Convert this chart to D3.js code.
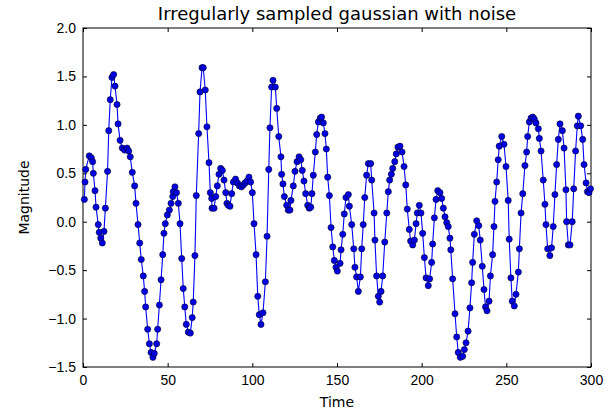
<!DOCTYPE html>
<html>
<head>
<meta charset="utf-8">
<script src="https://cdn.jsdelivr.net/npm/d3@7"></script>
<style>
    body { margin: 0; background: #fff; }
    svg { font-family: "DejaVu Sans", sans-serif; }
    .axis text { font-size: 14px; fill: #000; }
    .axis path, .axis line { stroke: #000; }
</style>
</head>
<body>
<svg id="chart"></svg>
<script>
// sample times and magnitudes
var times = [
    0.8, 1.2, 1.6, 3.7, 4.9, 5.7, 6.1, 7.1, 7.7, 9.0, 9.6, 10.5, 11.4, 12.4, 13.2, 14.5, 15.2, 16.1, 17.1, 18.1,
    18.9, 20.1, 20.7, 21.9, 23.2, 24.6, 26.0, 27.0, 27.9, 29.1, 30.5, 31.3, 32.5, 33.5, 34.4, 35.6, 36.4, 37.0, 38.2, 39.2,
    40.2, 41.3, 42.1, 43.5, 44.1, 45.1, 46.1, 47.1, 47.8, 48.6, 49.8, 51.0, 52.0, 53.0, 53.3, 54.3, 55.2, 56.3, 57.3, 58.3,
    59.2, 60.1, 61.0, 62.2, 63.4, 64.5, 65.1, 66.1, 66.9, 68.3, 69.1, 70.3, 71.0, 72.2, 73.2, 74.4, 75.2, 76.0, 76.2, 77.4,
    78.4, 79.3, 80.3, 81.3, 82.3, 83.3, 84.3, 85.0, 85.8, 86.8, 87.8, 88.8, 90.1, 91.2, 92.4, 93.6, 94.7, 95.7, 96.9, 98.0,
    99.0, 100.0, 101.0, 102.2, 103.2, 104.1, 105.1, 106.3, 107.7, 108.7, 109.7, 110.4, 111.4, 112.2, 113.6, 114.4, 115.6, 116.9, 117.3, 118.1,
    118.9, 120.3, 121.2, 122.2, 122.8, 124.2, 125.2, 126.4, 127.6, 128.6, 129.5, 130.5, 131.5, 132.7, 133.6, 134.5, 135.2, 136.0, 137.2, 138.0,
    139.0, 140.1, 140.9, 141.9, 142.9, 143.7, 144.5, 145.5, 146.5, 147.5, 148.4, 149.4, 150.2, 151.8, 152.4, 153.4, 154.3, 155.3, 156.7, 157.3,
    158.7, 159.9, 160.6, 161.6, 162.6, 163.8, 164.6, 165.5, 166.4, 167.5, 168.5, 169.9, 170.5, 171.9, 172.4, 173.4, 174.4, 175.2, 176.0, 177.0,
    178.2, 179.4, 180.3, 181.1, 182.1, 182.9, 184.1, 185.0, 186.0, 187.2, 188.4, 189.6, 190.6, 191.5, 192.7, 193.5, 194.7, 195.7, 196.7, 197.4,
    198.6, 199.6, 200.6, 201.6, 202.6, 203.9, 204.7, 205.9, 206.5, 207.5, 208.5, 209.5, 210.8, 211.8, 212.8, 213.8, 214.8, 215.7, 216.7, 217.2,
    218.3, 219.7, 220.7, 221.6, 222.8, 224.2, 225.2, 226.2, 227.4, 228.5, 229.5, 230.1, 231.1, 232.5, 233.7, 234.6, 235.8, 236.8, 237.7, 238.6,
    239.8, 240.6, 241.9, 242.7, 243.3, 244.3, 245.2, 245.8, 247.3, 248.6, 249.8, 251.1, 251.7, 252.7, 253.5, 254.7, 255.7, 257.1, 257.7, 258.7,
    259.7, 261.0, 262.0, 262.6, 263.6, 264.6, 265.6, 266.5, 267.5, 268.9, 269.5, 270.5, 271.8, 272.8, 273.4, 274.4, 275.7, 276.7, 277.7, 278.7,
    279.7, 280.7, 281.7, 283.1, 284.1, 285.2, 285.6, 286.6, 287.6, 288.9, 289.8, 290.9, 291.9, 292.5, 293.9, 295.1, 295.9, 297.1, 297.9, 298.8,
    299.7
];
var magnitudes = [
    0.23, 0.41, 0.54, 0.68, 0.66, 0.62, 0.50, 0.32, 0.15, -0.03, -0.11, -0.17, -0.22, -0.10, 0.14, 0.52, 0.94, 1.26, 1.49, 1.52,
    1.40, 1.21, 1.01, 0.84, 0.76, 0.74, 0.76, 0.73, 0.67, 0.51, 0.37, 0.19, -0.03, -0.22, -0.39, -0.56, -0.72, -0.88, -1.11, -1.26,
    -1.35, -1.40, -1.36, -1.26, -1.11, -0.86, -0.60, -0.34, -0.12, -0.02, 0.07, 0.12, 0.19, 0.26, 0.31, 0.36, 0.30, 0.19, -0.02, -0.38,
    -0.69, -0.88, -1.06, -1.14, -1.15, -0.99, -0.83, -0.35, 0.27, 0.91, 1.34, 1.59, 1.59, 1.36, 0.98, 0.61, 0.30, 0.24, 0.14, 0.14,
    0.26, 0.37, 0.49, 0.55, 0.53, 0.43, 0.30, 0.19, 0.17, 0.16, 0.29, 0.41, 0.44, 0.40, 0.37, 0.36, 0.38, 0.40, 0.42, 0.46,
    0.41, 0.30, -0.02, -0.34, -0.77, -0.96, -1.06, -0.94, -0.62, -0.15, 0.54, 0.97, 1.39, 1.46, 1.39, 1.17, 0.88, 0.67, 0.49, 0.39,
    0.26, 0.17, 0.12, 0.12, 0.22, 0.37, 0.52, 0.62, 0.67, 0.64, 0.53, 0.42, 0.29, 0.17, 0.14, 0.15, 0.29, 0.48, 0.72, 0.90,
    1.03, 1.07, 1.08, 1.02, 0.91, 0.75, 0.46, 0.27, -0.06, -0.26, -0.40, -0.47, -0.51, -0.43, -0.29, -0.13, 0.08, 0.25, 0.28, 0.16,
    -0.03, -0.28, -0.47, -0.57, -0.72, -0.57, -0.28, -0.03, 0.25, 0.48, 0.60, 0.60, 0.43, 0.09, -0.19, -0.56, -0.77, -0.83, -0.72, -0.56,
    -0.21, 0.09, 0.31, 0.43, 0.49, 0.55, 0.62, 0.70, 0.77, 0.78, 0.72, 0.57, 0.38, 0.13, -0.08, -0.20, -0.24, -0.19, -0.02, 0.09,
    0.17, 0.09, -0.12, -0.37, -0.58, -0.66, -0.59, -0.42, -0.23, 0.04, 0.23, 0.32, 0.30, 0.24, 0.14, 0.05, -0.01, -0.05, -0.17, -0.29,
    -0.59, -0.95, -1.19, -1.35, -1.40, -1.39, -1.32, -1.25, -1.13, -0.89, -0.63, -0.42, -0.13, 0.01, -0.04, -0.19, -0.46, -0.70, -0.88, -0.92,
    -0.82, -0.56, -0.34, -0.05, 0.21, 0.41, 0.64, 0.78, 0.88, 0.80, 0.57, 0.22, -0.18, -0.58, -0.82, -0.87, -0.75, -0.52, -0.28, 0.09,
    0.29, 0.58, 0.72, 0.88, 1.03, 1.07, 1.08, 1.06, 1.02, 0.96, 0.86, 0.73, 0.43, 0.18, -0.03, -0.28, -0.35, -0.27, -0.05, 0.28,
    0.59, 0.85, 1.01, 0.94, 0.76, 0.33, 0.00, -0.24, -0.24, 0.00, 0.34, 0.73, 0.99, 1.09, 0.99, 0.85, 0.59, 0.40, 0.31, 0.30,
    0.34
];
var xTicks = [0, 50, 100, 150, 200, 250, 300];
var yTicks = [-1.5, -1.0, -0.5, 0.0, 0.5, 1.0, 1.5, 2.0];

var width = 615,
    height = 412;
var margin = {top: 28, right: 24, bottom: 45, left: 83};
var w = width - margin.left - margin.right,
    h = height - margin.top - margin.bottom;

var svg = d3.select("#chart")
    .attr("width", width)
    .attr("height", height);

var x = d3.scaleLinear().domain([0, 300]).range([0, w]);
var y = d3.scaleLinear().domain([-1.5, 2.0]).range([h, 0]);

var root = svg.append("g")
    .attr("transform", "translate(" + margin.left + "," + margin.top + ")");

var fmt = function (d) { return d3.format(".1f")(d).replace("-", "\u2212"); };

// classic matplotlib: inward ticks on all four sides
root.append("g").attr("class", "axis")
    .attr("transform", "translate(0," + h + ")")
    .call(d3.axisBottom(x).tickValues(xTicks).tickSizeInner(-4).tickSizeOuter(0).tickPadding(8));
root.append("g").attr("class", "axis")
    .call(d3.axisTop(x).tickValues(xTicks).tickSizeInner(-4).tickSizeOuter(0).tickFormat(""));
root.append("g").attr("class", "axis")
    .call(d3.axisLeft(y).tickValues(yTicks).tickSizeInner(-4).tickSizeOuter(0).tickPadding(7).tickFormat(fmt));
root.append("g").attr("class", "axis")
    .attr("transform", "translate(" + w + ",0)")
    .call(d3.axisRight(y).tickValues(yTicks).tickSizeInner(-4).tickSizeOuter(0).tickFormat(""));

root.selectAll(".axis .domain").remove();
root.append("rect")
    .attr("width", w)
    .attr("height", h)
    .attr("fill", "none")
    .attr("stroke", "#000")
    .attr("stroke-width", 1);

var points = times.map(function (t, i) { return [t, magnitudes[i]]; });

var line = d3.line()
    .x(function (d) { return x(d[0]); })
    .y(function (d) { return y(d[1]); });

root.append("path")
    .datum(points)
    .attr("d", line)
    .attr("fill", "none")
    .attr("stroke", "#0000ff")
    .attr("stroke-width", 1.1);

root.selectAll("circle")
    .data(points).enter()
    .append("circle")
    .attr("cx", function (d) { return x(d[0]); })
    .attr("cy", function (d) { return y(d[1]); })
    .attr("r", 3.1)
    .attr("fill", "#0000e0")
    .attr("stroke", "#000033")
    .attr("stroke-width", 0.6);

svg.append("text")
    .attr("x", margin.left + w / 2)
    .attr("y", 20)
    .attr("text-anchor", "middle")
    .style("font-size", "18px")
    .text("Irregularly sampled gaussian with noise");

svg.append("text")
    .attr("x", margin.left + w / 2)
    .attr("y", 407)
    .attr("text-anchor", "middle")
    .style("font-size", "14px")
    .text("Time");

svg.append("text")
    .attr("transform", "translate(29," + (margin.top + h / 2) + ") rotate(-90)")
    .attr("text-anchor", "middle")
    .style("font-size", "14px")
    .text("Magnitude");
</script>
</body>
</html>
